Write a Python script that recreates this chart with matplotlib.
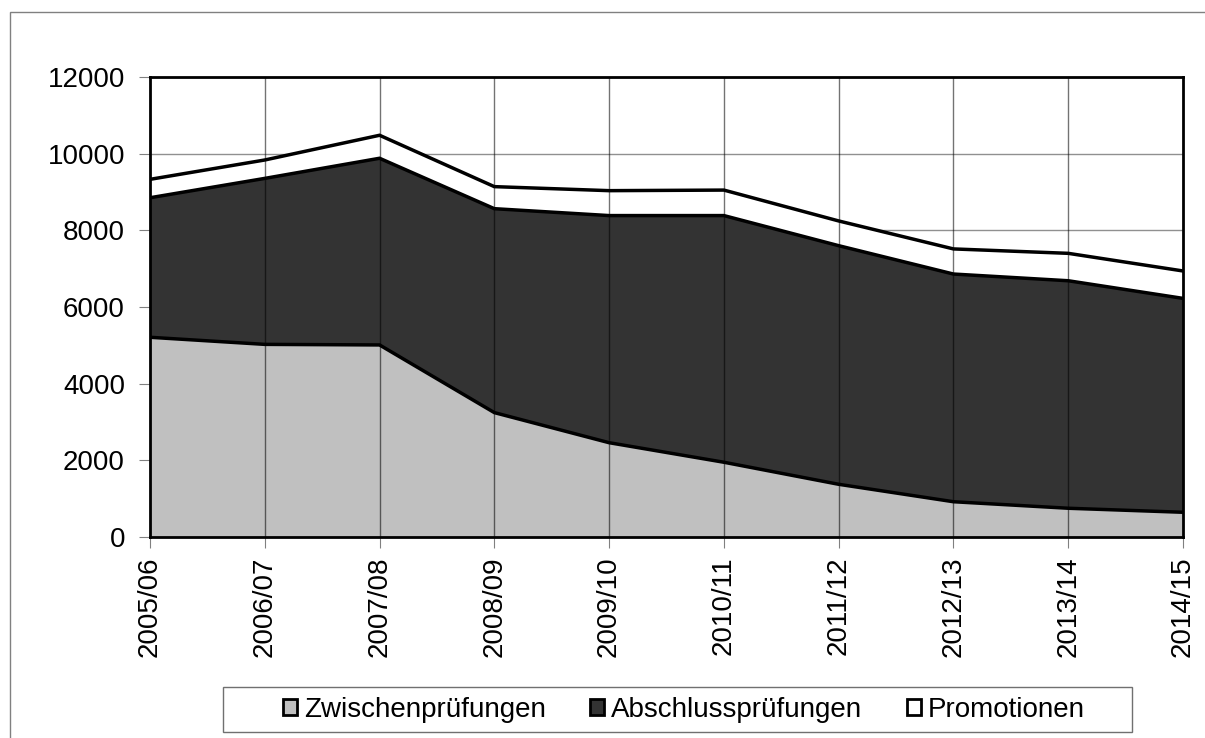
import numpy as np
import matplotlib.pyplot as plt
from matplotlib.patches import Rectangle, Patch

plt.rcParams['font.family'] = ['Liberation Sans', 'DejaVu Sans']

years = ['2005/06', '2006/07', '2007/08', '2008/09', '2009/10',
         '2010/11', '2011/12', '2012/13', '2013/14', '2014/15']
zwischen = [5210, 5025, 5010, 3245, 2460, 1950, 1375, 920, 750, 645]
abschluss = [3640, 4330, 4870, 5320, 5925, 6435, 6225, 5940, 5935, 5580]
promotionen = [480, 480, 600, 575, 650, 665, 645, 655, 715, 715]

labels = ['Zwischenprüfungen', 'Abschlussprüfungen', 'Promotionen']
colors = ['#c0c0c0', '#333333', '#ffffff']

x = np.arange(len(years))
c1 = np.array(zwischen)
c2 = c1 + np.array(abschluss)
c3 = c2 + np.array(promotionen)

W, H = 1205, 738
fig = plt.figure(figsize=(W / 100, H / 100), dpi=100)
ax = fig.add_axes([150/W, 1 - 537/H, 1033/W, 460/H])

# outer chart frame
fig.patches.append(Rectangle((10/W, -0.01), 1.0, 1 - 12/H + 0.01,
                             transform=fig.transFigure, fill=False,
                             edgecolor='#808080', lw=1))

ax.set_axisbelow(True)
ax.yaxis.grid(True, color='#909090', lw=1)

ax.fill_between(x, 0, c1, color=colors[0], lw=0, zorder=2)
ax.fill_between(x, c1, c2, color=colors[1], lw=0, zorder=2)
ax.fill_between(x, c2, c3, color=colors[2], lw=0, zorder=2)

# vertical grid lines over the areas
for xi in x[1:-1]:
    ax.axvline(xi, color='black', alpha=0.55, lw=1, zorder=3)

for c in (c1, c2, c3):
    ax.plot(x, c, color='black', lw=2.5, zorder=4, solid_joinstyle='miter')

ax.set_xlim(0, 9)
ax.set_ylim(0, 12000)
ax.set_yticks(np.arange(0, 12001, 2000))
ax.set_xticks(x)
ax.set_xticklabels(years, rotation=90, fontsize=20)
ax.tick_params(axis='y', labelsize=20, length=8, color='#808080', direction='out', pad=10)
ax.tick_params(axis='x', length=8, color='#808080', direction='out', pad=6)

for s in ax.spines.values():
    s.set_linewidth(2)
    s.set_color('black')
    s.set_zorder(5)

# legend box
fig.patches.append(Rectangle((223/W, 1 - 732/H), (1132 - 223)/W, 45/H,
                             transform=fig.transFigure, facecolor='white',
                             edgecolor='#707070', lw=1))

handles = [Patch(facecolor=c, edgecolor='black', lw=2) for c in colors]
leg = fig.legend(handles, labels, loc='center', bbox_to_anchor=(684/W, 1 - 710/H),
                 ncol=3, fontsize=20, frameon=False,
                 handlelength=0.5, handleheight=0.5, handletextpad=0.25,
                 columnspacing=1.6, borderpad=0.35)

fig.savefig('out.png', dpi=100)
